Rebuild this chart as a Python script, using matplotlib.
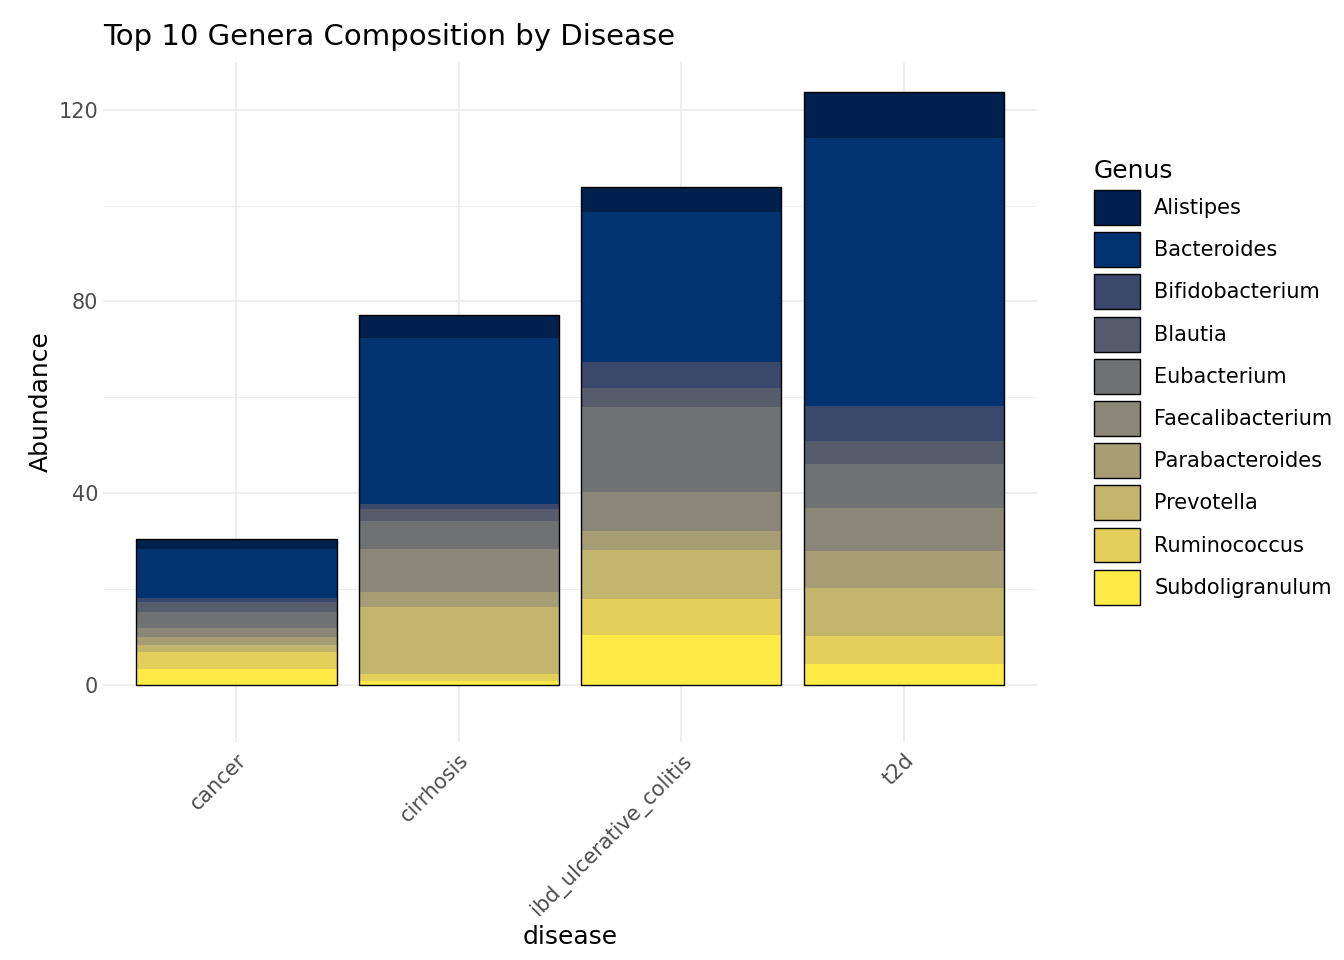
import numpy as np
import matplotlib
matplotlib.use('Agg')
import matplotlib.pyplot as plt
from matplotlib.patches import Patch

diseases = ['cancer', 'cirrhosis', 'ibd_ulcerative_colitis', 't2d']
genera = ['Alistipes', 'Bacteroides', 'Bifidobacterium', 'Blautia', 'Eubacterium',
          'Faecalibacterium', 'Parabacteroides', 'Prevotella', 'Ruminococcus', 'Subdoligranulum']
colors = ['#00204D', '#00336F', '#39486B', '#575C6D', '#707173',
          '#8A8779', '#A69D75', '#C4B56C', '#E4CF5B', '#FFEA46']

# abundance per genus, one value per disease
abundance = {
    'Alistipes':        [1.9, 4.7, 5.1, 9.7],
    'Bacteroides':      [10.3, 34.7, 31.4, 55.9],
    'Bifidobacterium':  [0.8, 1.0, 5.3, 7.3],
    'Blautia':          [2.2, 2.6, 4.1, 4.9],
    'Eubacterium':      [3.2, 5.7, 17.6, 9.1],
    'Faecalibacterium': [2.0, 9.1, 8.3, 9.1],
    'Parabacteroides':  [1.6, 3.2, 3.9, 7.7],
    'Prevotella':       [1.6, 14.0, 10.3, 9.9],
    'Ruminococcus':     [3.4, 1.4, 7.5, 5.9],
    'Subdoligranulum':  [3.3, 0.7, 10.3, 4.3],
}

fig = plt.figure(figsize=(13.44, 9.6), dpi=100)
ax = fig.add_axes([103/1344, 1 - 742/960, 934/1344, 680/960])

x = np.arange(len(diseases))
bottom = np.zeros(len(diseases))
for g, c in zip(reversed(genera), reversed(colors)):
    vals = np.array(abundance[g])
    ax.bar(x, vals, width=0.9, bottom=bottom, color=c, edgecolor='none')
    bottom += vals
# outline each full bar
ax.bar(x, bottom, width=0.9, fill=False, edgecolor='black', linewidth=1)

ax.set_xlim(-0.6, 3.6)
ax.set_ylim(-12, 130)
ax.set_yticks([0, 40, 80, 120])
ax.set_yticks([20, 60, 100], minor=True)
ax.set_xticks(x)
ax.set_xticklabels(diseases, rotation=45, ha='right', rotation_mode='anchor', fontsize=15, color='#4D4D4D')
ax.tick_params(axis='y', labelsize=15, labelcolor='#4D4D4D', length=0, which='both')
ax.tick_params(axis='x', length=0, pad=6)
ax.grid(True, which='major', color='#EBEBEB', linewidth=1.2)
ax.grid(True, which='minor', axis='y', color='#EBEBEB', linewidth=0.6)
ax.set_axisbelow(True)
for s in ax.spines.values():
    s.set_visible(False)
ax.set_xlabel('disease', fontsize=18)
ax.set_ylabel('Abundance', fontsize=18)
ax.set_title('Top 10 Genera Composition by Disease', fontsize=21, loc='left', x=0, pad=12)

handles = [Patch(facecolor=c, edgecolor='black', label=g) for g, c in zip(genera, colors)]
leg = fig.legend(handles=handles, title='Genus', loc='upper left', bbox_to_anchor=(1075/1344, 1 - 140/960),
                 frameon=False, fontsize=15, title_fontsize=18, handlelength=2.2, handleheight=2.2,
                 labelspacing=0.35, handletextpad=0.7)
leg._legend_box.align = 'left'

fig.savefig('out.png', dpi=100)
